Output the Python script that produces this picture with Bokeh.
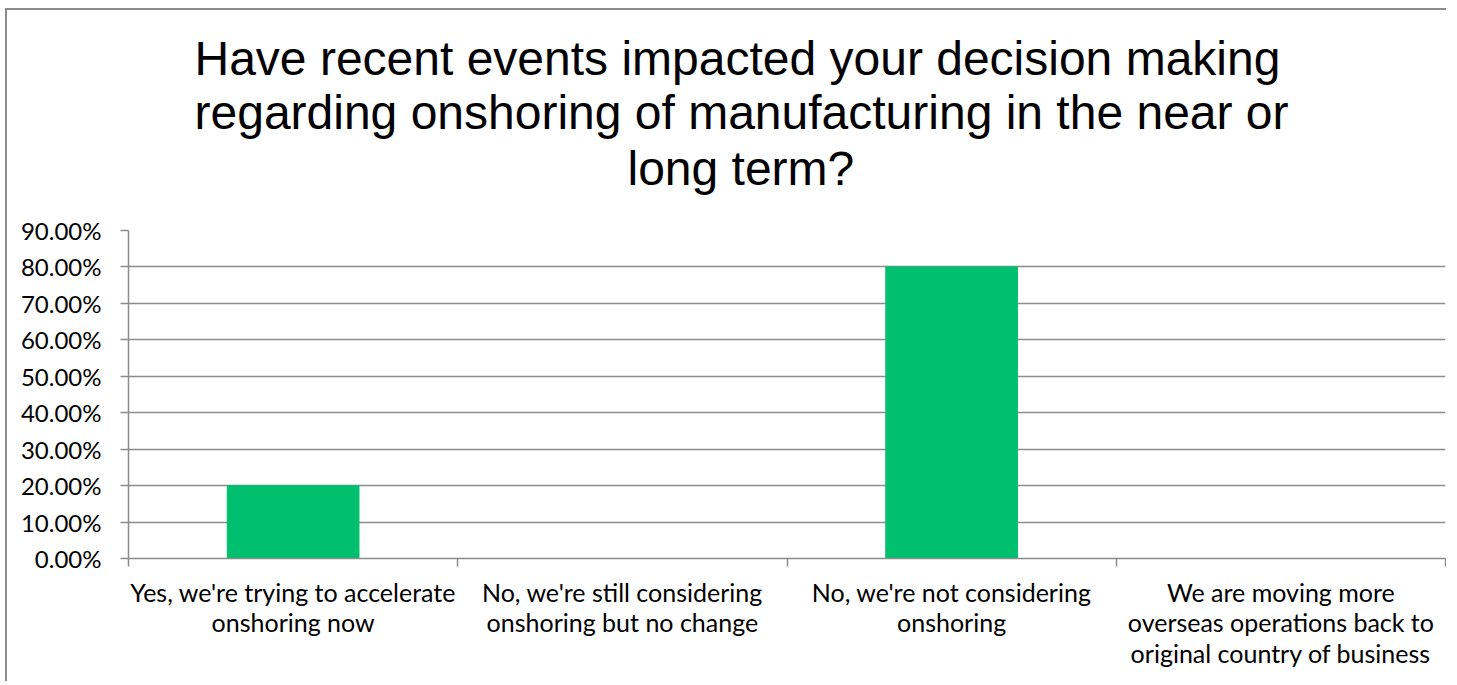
from bokeh.plotting import figure
from bokeh.models import Range1d, FixedTicker, NumeralTickFormatter, Title
from bokeh.embed import file_html
from bokeh.resources import INLINE

categories = [
    "Yes, we're trying to accelerate\nonshoring now",
    "No, we're still considering\nonshoring but no change",
    "No, we're not considering\nonshoring",
    "We are moving more\noverseas operations back to\noriginal country of business",
]
values = [0.20, 0.0, 0.80, 0.0]
y_ticks = [0.0, 0.1, 0.2, 0.3, 0.4, 0.5, 0.6, 0.7, 0.8, 0.9]
title_lines = [
    "Have recent events impacted your decision making",
    "regarding onshoring of manufacturing in the near or",
    "long term?",
]

n = len(categories)
xpos = [i + 0.5 for i in range(n)]

GREY = "#8c8c8c"
p = figure(width=1441, height=673, output_backend="svg", toolbar_location=None,
           x_range=Range1d(0, n), y_range=Range1d(0, 0.9),
           min_border_left=121, min_border_right=3, min_border_top=220, min_border_bottom=125,
           styles={"border-top": "2px solid #8c8c8c", "border-left": "2px solid #8c8c8c",
                   "margin-left": "5px", "margin-top": "8px"})
p.outline_line_color = None

# last title line (closest to the plot), centred over the chart via its left offset
p.add_layout(Title(text=title_lines[2], align="left", offset=499, standoff=71,
                   text_font="Liberation Sans", text_font_size="48px",
                   text_font_style="normal", text_color="#000000"), "above")
# first two title lines as one block
p.add_layout(Title(text="\n".join(title_lines[:2]), align="left", offset=66, standoff=-70,
                   text_font="Liberation Sans", text_font_size="48px",
                   text_line_height=1.03,
                   text_font_style="normal", text_color="#000000"), "above")

p.vbar(x=xpos, top=values, width=0.4, color="#00BF6F")

p.xaxis.ticker = FixedTicker(ticks=xpos, minor_ticks=list(range(n + 1)))
p.xaxis.major_label_overrides = {x: c for x, c in zip(xpos, categories)}
p.xaxis.major_tick_out = 0
p.xaxis.major_tick_in = 0
p.xaxis.minor_tick_out = 8
p.xaxis.minor_tick_in = 0
p.xaxis.minor_tick_line_color = GREY
p.xaxis.minor_tick_line_width = 1.5
p.xaxis.axis_line_color = GREY
p.xaxis.axis_line_width = 1.5
p.xaxis.major_label_text_font = "Lato"
p.xaxis.major_label_text_font_size = "25px"
p.xaxis.major_label_text_color = "#000000"
p.xaxis.major_label_text_line_height = 1.03
p.xaxis.major_label_standoff = 10
p.xaxis.major_label_orientation = "horizontal"

p.yaxis.ticker = FixedTicker(ticks=y_ticks)
p.yaxis.formatter = NumeralTickFormatter(format="0.00%")
p.yaxis.major_tick_out = 8
p.yaxis.major_tick_in = 0
p.yaxis.minor_tick_line_color = None
p.yaxis.major_tick_line_color = GREY
p.yaxis.major_tick_line_width = 1.5
p.yaxis.axis_line_color = GREY
p.yaxis.axis_line_width = 1.5
p.yaxis.major_label_text_font = "Lato"
p.yaxis.major_label_text_font_size = "24px"
p.yaxis.major_label_text_color = "#000000"
p.yaxis.major_label_standoff = 19

p.xgrid.grid_line_color = None
p.ygrid.ticker = FixedTicker(ticks=y_ticks)
p.ygrid.grid_line_color = GREY
p.ygrid.grid_line_width = 1.5

open("out.html", "w").write(file_html(p, INLINE))
